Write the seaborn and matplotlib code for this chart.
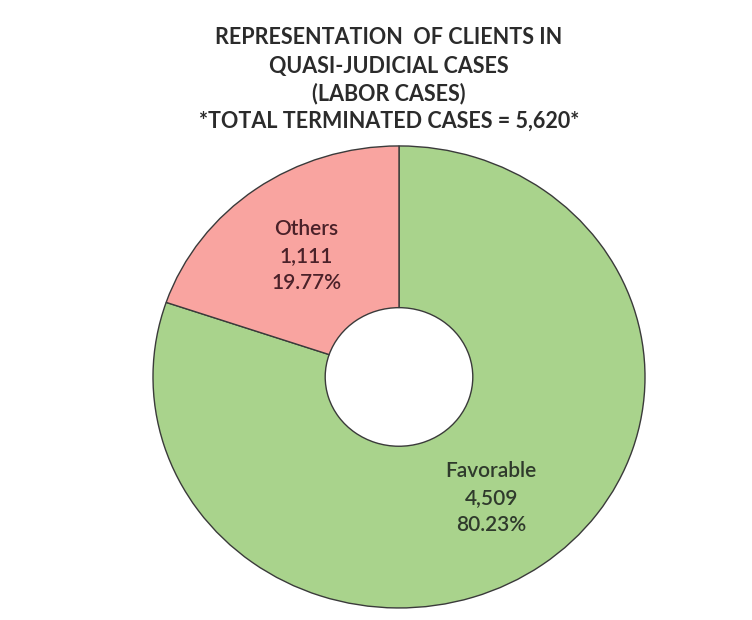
import matplotlib
matplotlib.use("Agg")
import matplotlib.pyplot as plt
import seaborn as sns

# Chart data
categories = ["Favorable", "Others"]
case_counts = [4509, 1111]
title_lines = [
    "REPRESENTATION  OF CLIENTS IN",
    "QUASI-JUDICIAL CASES",
    "(LABOR CASES)",
    "*TOTAL TERMINATED CASES = 5,620*",
]

# Styling
sns.set_theme(style="white")
plt.rcParams["font.family"] = ["Lato", "DejaVu Sans"]
wedge_colors = ["#a9d38c", "#f9a4a0"]
text_colors = ["#2f3a2c", "#4a2129"]

total = sum(case_counts)
labels = [f"{name}\n{count:,}\n{count / total * 100:.2f}%"
          for name, count in zip(categories, case_counts)]

fig = plt.figure(figsize=(7.52, 6.2), dpi=100)
fig.patch.set_facecolor("white")

# Axes placed so the ring spans the same pixels as the reference
lim = 1.05
ax = fig.add_axes([140.7 / 752, 0.5 / 620, 516.6 / 752, 485.1 / 620])

wedges, texts = ax.pie(
    case_counts,
    labels=labels,
    colors=wedge_colors,
    startangle=90,
    counterclock=False,
    radius=1.0,
    labeldistance=0.645,
    wedgeprops=dict(width=0.70, edgecolor="#3a3a3a", linewidth=1.0),
    textprops=dict(fontsize=15, fontweight="semibold", ha="center",
                   va="center", linespacing=1.45),
)
for t, c in zip(texts, text_colors):
    t.set_color(c)
    t.set_horizontalalignment("center")

ax.set_aspect("auto")
ax.set_xlim(-lim, lim)
ax.set_ylim(-lim, lim)
ax.axis("off")

# Title block, one line at a time
title_y = [38, 66, 94, 121]
for line, y in zip(title_lines, title_y):
    fig.text(389 / 752, 1 - y / 620, line, ha="center", va="center",
             fontsize=15.5, fontweight="bold", color="#2b2b2b")

fig.savefig("out.png", dpi=100, facecolor="white")
